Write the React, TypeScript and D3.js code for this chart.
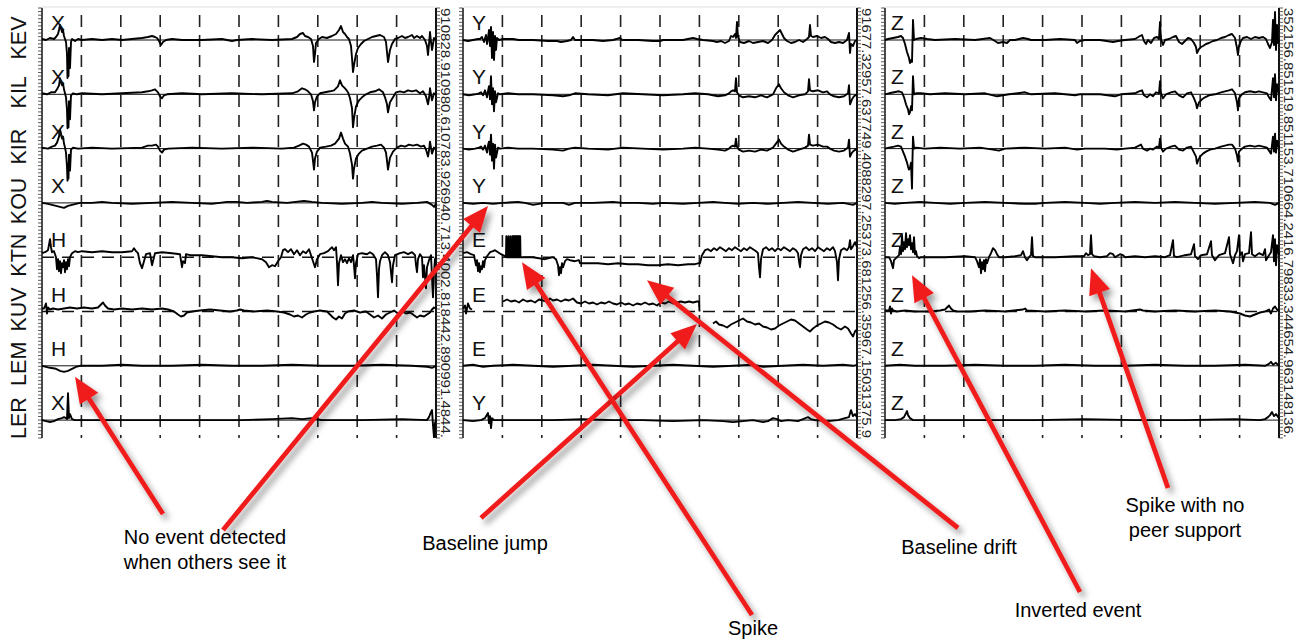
import React from "react";
import * as d3 from "d3";

// ---------------- DATA ----------------
const stations = ["KEV", "KIL", "KIR", "KOU", "KTN", "KUV", "LEM", "LER"];
const components = [
  ["X", "X", "X", "X", "H", "H", "H", "X"],
  ["Y", "Y", "Y", "Y", "E", "E", "E", "Y"],
  ["Z", "Z", "Z", "Z", "Z", "Z", "Z", "Z"],
];
const sideValues = [
  "910828.910980.610783.926940.713.4002.818442.890991.4844.",
  "91677.32957.637749.4088297.25373.681256.35967.15031375.9",
  "352156.851519.851153.710664.2416.79833.344654.963148136.",
];
const dashedBaselines = [[4, 5], [4, 5], [5]];
const SAMPLES = 394;

// traces: flat [sample, amplitude, sample, amplitude, ...]; null = gap
const p1KEV = [0,1,4,0,8,2,12,1,14,3,16,6,17,10,18,15,19,12,20,8,21,10,22,4,23,1,24,-2,25,-14,25.5,-38,26,-20,26.5,-36,27,-8,28,-28,29,-2,30,1,33,-1,36,1,40,0,50,1,60,0,70,1,80,0,90,1,100,2,106,3,110,4,113,3,115,2,117,-1,119,-5,121,-2,124,0,130,1,140,0,160,0,180,1,190,-1,195,0,210,1,230,0,250,1,255,3,258,6,261,7,263,4,266,3,269,1,271,-6,272,-22,273,-14,274,-3,277,1,280,3,285,2,290,4,294,6,297,10,299,14,301,8,303,6,305,3,307,1,309,-6,310,-18,311,-32,312,-25,314,-14,316,-8,319,-4,322,-1,326,1,330,3,334,4,338,5,342,3,344,-2,345,-12,346,-22,348,-10,350,-4,353,1,356,2,360,4,363,2,366,3,370,5,372,2,375,4,378,2,380,4,383,0,385,-6,386,-15,387,-4,388,8,389,-2,390,-10,392,2,394,0];
const p1KIL = [0,1,5,0,9,2,13,2,15,5,17,9,18,16,19,12,20,9,21,11,22,5,23,1,24,-3,25,-15,25.5,-34,26,-18,26.5,-33,27,-7,28,-25,29,-1,31,1,35,0,40,1,60,0,80,1,100,2,106,3,110,4,113,5,116,2,118,-2,120,-4,122,-1,125,0,140,1,160,0,190,1,220,0,250,1,256,3,260,6,263,5,266,3,269,0,271,-7,272,-16,273,-8,275,-2,278,1,283,2,288,3,292,4,296,8,298,14,300,9,303,6,306,2,308,-4,310,-14,311,-33,312,-24,314,-12,317,-6,320,-3,324,0,328,2,333,3,337,5,341,2,343,-3,345,-10,346,-18,348,-8,351,-3,354,2,358,3,362,2,366,4,370,3,374,4,378,1,381,3,384,-2,386,-10,387,-4,388,6,390,-6,392,1,394,0];
const p1KIR = [0,1,6,0,10,2,13,3,15,6,17,12,18,19,19,15,20,10,21,12,22,5,23,1,24,-4,25,-18,25.5,-32,26,-15,26.5,-30,27,-6,28,-22,29,-1,31,1,36,0,50,1,70,0,100,1,106,3,110,3,114,4,116,2,118,-2,120,-4,122,-1,126,0,150,1,180,0,210,1,240,0,252,1,257,3,261,5,264,4,267,2,270,-4,271,-12,272,-21,273,-10,275,-3,278,1,284,2,289,3,293,5,297,10,299,16,301,10,303,5,306,2,308,-5,310,-16,311,-30,312,-20,314,-10,317,-5,320,-2,325,0,330,2,335,3,339,4,342,1,344,-4,345,-12,346,-21,348,-9,351,-3,355,1,359,3,363,2,367,4,371,3,375,4,379,2,382,3,384,-1,386,-8,387,-2,388,7,390,-5,392,1,394,-1];
const p1KOU = [0,0,6,-1,10,-2,14,-3,18,-4,22,-5,26,-3,30,-2,34,-1,38,0,50,0,60,1,70,0,90,-1,110,0,130,1,150,0,170,-1,185,1,195,1,205,0,220,1,225,2,230,1,245,0,262,2,270,1,280,0,300,-1,320,0,330,1,340,0,360,-1,375,0,385,1,390,-2,392,-4,394,-1];
const p1KTN = [0,4,3,5,6,7,8,18,9,10,10,5,12,6,14,0,15,-12,16,-2,17,-14,18,-4,19,-16,20,-6,21,-10,22,-3,23,-15,24,-5,25,-12,26,-2,27,-9,28,0,30,4,33,6,36,5,40,6,50,5,60,6,70,5,80,5,90,6,92,9,94,6,96,4,98,-6,100,-11,102,-4,104,3,108,4,110,-8,111,-4,113,4,120,5,130,4,138,3,140,-10,141,-4,143,-6,144,3,148,2,150,2,160,2,170,1,180,0,190,0,200,-1,210,0,220,-2,224,-5,227,-10,230,-8,233,-9,236,-4,239,0,241,7,243,8,246,5,249,8,252,3,255,7,258,2,261,6,264,4,267,8,269,2,271,-4,273,-10,275,-2,278,3,282,4,286,6,290,10,292,7,294,10,295,-5,296,-28,297,-6,299,2,301,-5,303,-2,305,-6,307,-1,309,-5,311,2,312,-8,313,-21,314,-6,316,3,320,4,325,3,328,5,331,3,334,-2,335,-18,336,-40,337,-12,338,-4,340,2,343,5,346,2,348,-5,349,-15,350,-25,351,-8,353,2,358,4,362,5,366,3,370,5,373,2,374,-8,375,-15,376,-2,378,3,380,0,381,-20,382,-8,384,-31,385,-10,387,-3,389,2,390,-20,391,-40,392,-15,393,-2,394,0];
const p1KUV = [0,3,2,3,4,8,5,-2,6,4,8,2,11,3,16,2,22,3,28,4,35,3,42,4,50,3,56,4,59,7,61,9,63,6,66,3,72,2,80,3,90,2,100,3,110,2,120,3,126,2,132,0,136,-3,139,-5,142,-4,145,-1,150,0,158,1,168,2,178,1,188,0,195,1,198,2,202,1,212,0,225,1,235,0,242,-1,248,-3,252,-5,256,-4,260,-6,264,-3,268,-1,272,0,278,1,285,0,288,-3,291,-6,294,-8,297,-5,300,-7,303,-2,306,0,312,1,318,-1,324,0,328,-3,332,-6,336,-4,340,-7,344,-3,348,-1,352,1,356,-2,360,0,364,-2,368,-1,371,-3,375,-6,378,-4,382,-5,385,-3,388,-1,390,2,392,4,394,3];
const p1LEM = [0,0,4,-1,8,-2,14,-3,18,-5,22,-6,26,-5,30,-3,34,-1,38,0,60,0,80,1,100,0,130,0,160,1,190,0,220,0,250,1,280,0,310,0,340,1,370,0,385,-1,390,-2,394,0];
const p1LER = [0,0,4,-1,8,-2,12,-1,16,1,20,2,22,3,24,2,25,1,26,27,27,2,28,6,30,1,33,0,60,0,100,0,150,0,200,0,230,1,250,2,260,1,270,2,280,0,320,0,360,1,385,0,387,3,389,8,390,10,391,-5,392,-17,393,-3,394,0];

const p2KEV = [0,0,5,-1,10,0,15,1,17,1,19,3,21,-2,23,5,24,-4,25,2,26,10,27,-6,28,13,29,-18,30,8,31,-20,32,4,33,-10,34,2,36,0,40,1,50,1,56,0,70,0,85,-1,94,-1,98,-2,104,-1,108,0,110,3,112,0,130,0,140,-1,150,0,157,2,159,0,175,0,190,-1,197,-1,200,0,220,0,230,2,234,1,240,0,250,-1,254,-2,258,-1,262,-3,266,-1,268,4,270,3,272,6,273,2,274,18,275,3,277,-2,281,-3,286,-1,290,-3,295,-2,300,-1,305,-3,309,0,312,5,315,8,317,10,319,6,321,2,324,-1,328,-3,332,-2,336,0,340,-2,344,1,346,3,347,15,348,4,350,3,354,4,358,2,362,3,365,1,368,-2,372,-3,376,-2,380,-3,384,0,386,7,387,-13,388,-4,390,-6,392,-1,394,0];
const p2KIL = [0,0,6,-1,12,0,16,1,18,2,20,-1,22,4,24,-3,25,3,26,8,27,-5,28,18,29,-10,30,6,31,-17,32,3,33,-8,35,1,37,0,45,1,55,0,70,0,90,-1,100,-2,106,-1,112,1,125,0,145,-1,160,1,180,0,200,-1,220,0,232,1,245,0,255,-2,262,-1,266,1,268,3,270,4,272,3,273,16,274,2,276,-1,280,-3,286,-2,292,-3,298,-1,304,-3,310,0,313,6,316,10,318,6,321,2,325,-1,330,-3,336,-1,342,0,345,3,346,15,347,4,350,3,355,4,360,2,364,3,367,0,371,-2,376,-3,381,-2,385,1,386,9,387,-10,389,-5,391,-2,394,0];
const p2KIR = [0,0,6,-1,12,0,16,1,18,2,20,-1,22,3,24,-4,25,3,26,7,27,-6,28,14,29,-12,30,5,31,-20,32,4,33,-9,35,1,37,0,45,1,55,0,70,0,90,-1,100,-2,106,0,112,1,125,0,145,-1,160,1,180,0,200,-1,220,0,232,1,245,0,255,-1,262,-2,266,0,268,2,270,3,272,2,273,10,274,2,276,-1,280,-3,286,-2,292,-3,298,-1,304,-2,310,1,313,5,316,9,318,5,321,2,325,-1,330,-3,336,-1,342,1,345,3,346,14,347,4,350,3,355,4,360,2,364,2,367,0,371,-2,376,-3,381,-2,385,1,386,9,387,-8,389,-4,391,-2,394,0];
const p2KOU = [0,0,10,-1,20,0,30,-1,40,0,55,1,62,0,70,-2,76,-1,82,0,100,0,106,-2,112,0,130,0,150,1,160,0,175,0,190,-1,200,0,220,-1,235,0,250,1,262,0,275,-1,290,0,305,-1,320,0,335,1,350,0,365,-1,380,0,390,-2,394,0];
const p2KTN = [0,4,4,5,8,3,11,2,13,-8,14,-3,15,-14,16,-6,17,-15,18,-9,19,-12,20,-4,21,-10,22,-3,24,1,27,5,30,6,32,7,35,5,38,3,40,2,42,1,43,1,43.3,21,43.6,0,45,0,45.3,21,45.6,0,47,0,47.3,21,47.6,0,49,0,49.3,21,49.6,0,50,21,50.3,0,50.6,21,50.9,0,51.2,21,51.5,0,51.8,21,52.1,0,52.4,21,52.7,0,53,21,53.3,0,53.6,21,53.9,0,54.2,21,54.5,0,54.8,21,55.1,0,55.4,21,55.7,0,56,21,56.3,0,56.6,21,56.9,0,57.2,21,57.5,0,58,0,62,0,70,0,76,-1,82,-2,86,-1,90,0,93,-2,95,-8,96,-18,97,-10,98,-16,99,-6,100,-10,102,-4,104,-2,107,-3,112,-4,116,-3,117,-6,125,-6,135,-6,145,-7,155,-6,165,-7,175,-7,185,-8,195,-8,205,-7,215,-8,225,-7,232,-7,236,-6,237,-6,239,2,242,7,245,8,248,6,251,9,254,7,257,10,260,8,263,6,266,9,269,7,272,10,275,8,278,6,281,9,284,7,287,10,290,8,293,6,295,4,296,-10,297,-20,298,-2,300,8,303,10,306,7,309,9,312,6,315,9,318,7,321,10,324,8,327,6,330,9,333,7,335,4,336,-4,337,-10,338,2,340,8,343,10,346,7,349,9,352,6,355,10,358,8,361,6,364,9,367,7,370,10,372,6,374,-5,375,-23,376,-2,378,7,381,9,384,7,386,10,387,17,388,8,390,11,392,15,394,10];
const p2KUV = [0,3,2,6,3,-2,5,8,7,3,9,2,9.5,null,40,10,44,12,48,10,52,11,56,9,60,12,64,10,68,11,72,9,76,12,80,11,84,10,87,13,90,11,94,12,98,10,102,12,106,11,110,13,114,9,118,8,122,10,126,8,130,9,134,7,138,9,142,8,146,10,150,8,154,7,158,9,162,7,166,8,170,6,174,8,178,7,182,9,186,7,190,8,194,6,198,9,202,8,206,10,210,8,214,9,218,10,222,9,226,10,230,9,234,10,236,10,236.5,0,240,null,250,-12,253,-10,256,-13,260,-14,264,-16,268,-13,272,-11,276,-9,280,-7,284,-10,288,-11,292,-13,296,-12,300,-15,304,-16,308,-18,312,-17,316,-14,320,-12,324,-10,328,-8,332,-9,336,-12,340,-15,344,-18,347,-20,350,-17,354,-14,358,-12,362,-10,366,-11,370,-13,374,-16,378,-18,382,-15,385,-17,388,-22,390,-25,392,-20,394,-18];
const p2LEM = [0,0,10,1,20,-1,30,0,50,1,70,0,90,-1,110,0,130,1,150,0,170,-1,190,0,210,1,230,0,250,-1,270,0,290,1,300,-1,320,0,340,1,360,0,380,1,390,0,394,1];
const p2LER = [0,0,10,-1,18,0,22,2,25,7,26,-3,27,4,28,-8,29,2,31,0,40,0,60,0,90,0,120,1,150,0,180,0,210,-1,240,0,260,-1,270,-2,280,-1,290,0,300,-2,305,-1,310,2,314,1,318,-1,325,0,335,-1,345,3,348,1,352,0,365,-1,375,0,382,2,386,3,388,10,390,4,392,6,394,3];

const p3KEV = [0,0,3,1,8,2,13,3,16,4,18,2,20,-4,22,-12,24,-18,25,-23,26,-20,27,-22,28,20,29,0,31,1,36,2,42,1,50,0,70,1,90,0,105,2,110,-1,113,-3,118,-2,122,-3,125,0,130,0,138,2,143,1,146,0,160,0,175,1,190,0,192,-3,195,-1,200,0,215,0,228,-2,233,-1,240,0,250,1,255,4,257,5,259,-1,261,-4,263,0,266,-3,269,2,272,3,274,1,275,18,276,1,278,-5,280,0,284,1,288,3,291,4,294,-2,297,-4,300,-1,303,2,306,1,309,-3,311,-7,312,-13,314,-9,316,-7,318,-6,321,-4,324,-3,328,-1,332,0,336,2,340,3,344,5,347,6,350,2,352,-8,353,-15,354,-6,356,-1,358,2,362,3,366,1,370,3,374,2,378,3,381,1,383,-4,385,-8,387,-2,388,20,389,-5,390,28,391,-10,392,15,393,-3,394,0];
const p3KIL = [0,0,4,1,9,2,14,3,17,2,19,-3,21,-10,23,-15,24,-20,25,-18,26,-12,27,-16,28,18,29,0,31,1,36,1,45,0,60,1,80,0,100,1,108,-1,112,-2,118,-1,124,0,140,2,146,0,170,1,190,-1,195,0,215,0,230,-2,236,0,250,1,254,3,257,4,259,-1,262,-3,265,0,268,-2,271,2,274,1,275,13,276,1,278,-4,281,0,286,2,290,3,294,-1,298,-3,302,1,306,2,309,-4,311,-9,312,-14,314,-8,317,-5,320,-3,324,-1,330,0,336,2,340,3,344,4,347,5,350,1,352,-8,353,-16,354,-4,357,0,360,2,365,3,370,2,374,3,378,2,382,1,384,-3,386,-6,388,16,389,-3,390,20,391,-6,392,10,394,0];
const p3KIR = [0,0,4,1,9,2,13,3,16,2,18,-3,20,-8,22,-14,23,-18,24,-21,25,-19,26,-14,27,-40,27.5,-10,28,12,29,0,31,1,40,0,55,1,75,0,95,1,108,-1,114,-2,120,0,140,1,160,0,180,1,192,-1,200,0,220,0,232,-1,240,0,250,1,254,3,256,4,258,0,262,-2,265,0,268,-1,272,2,274,1,275,10,276,1,278,-3,281,0,286,2,290,3,294,-1,298,-2,302,1,306,2,309,-4,311,-8,312,-15,313,-12,315,-8,318,-5,321,-3,325,-1,330,0,336,2,340,3,344,4,347,4,350,0,352,-7,353,-13,354,-3,357,0,360,2,365,3,370,2,374,3,378,2,382,1,384,-2,386,-5,388,12,389,-3,390,15,391,-4,392,8,394,0];
const p3KOU = [0,0,10,-1,20,0,35,1,50,0,65,-1,80,0,100,1,120,0,140,-1,150,-1,160,0,180,1,200,0,215,-1,230,0,250,1,270,0,290,1,310,0,330,-1,350,0,370,1,385,0,390,-2,394,0];
const p3KTN = [0,0,4,0,6,-4,8,-11,9,-3,12,0,14,2,15,10,16,3,17,22,18,6,19,15,20,8,21,24,22,10,23,18,24,12,25,22,26,8,27,14,28,5,29,20,30,3,31,6,32,1,34,-1,36,0,40,0,60,0,80,1,90,0,92,-4,94,-10,95,-2,96,-16,97,-5,98,-12,99,-3,100,-14,101,-2,102,-6,104,0,106,4,108,9,110,7,112,3,114,0,120,0,130,1,136,2,138,6,140,0,142,-3,144,0,146,2,147,20,148,1,150,0,170,0,190,1,199,1,201,4,203,2,205,3,206,22,207,3,209,1,215,0,222,1,225,4,228,3,230,0,235,3,238,2,240,0,250,1,260,0,270,1,280,0,285,2,288,17,289,1,292,0,300,2,306,3,309,13,310,1,313,-2,316,2,322,3,326,16,327,2,330,-3,334,2,340,4,344,20,345,3,348,-6,350,2,352,6,354,22,355,2,357,5,358,-4,360,3,364,4,366,25,367,3,370,1,374,4,378,2,380,8,381,-3,384,2,386,5,388,22,389,-4,390,18,391,-8,392,12,394,2];
const p3KUV = [0,1,4,1,5,5,6,-2,7,3,8,1,12,0,20,1,30,0,45,0,55,1,60,2,62,4,64,6,66,3,68,1,72,0,85,0,100,1,120,0,138,2,140,3,142,1,160,0,180,1,200,0,220,1,240,0,255,2,258,1,270,0,290,1,310,0,330,1,345,0,355,-2,360,-4,365,-5,370,-3,375,-1,380,0,384,2,386,-2,388,3,390,5,392,2,394,0];
const p3LEM = [0,0,15,1,30,0,60,0,90,1,120,0,150,0,180,1,210,0,240,0,270,1,300,0,330,0,360,1,380,0,384,2,386,4,388,1,391,3,394,0];
const p3LER = [0,0,10,0,16,1,19,3,21,7,22,9,23,5,25,2,28,0,60,0,100,0,150,0,200,1,250,0,300,0,350,1,375,0,380,1,383,3,385,5,387,8,389,4,391,6,394,2];

const traces = [
  [p1KEV, p1KIL, p1KIR, p1KOU, p1KTN, p1KUV, p1LEM, p1LER],
  [p2KEV, p2KIL, p2KIR, p2KOU, p2KTN, p2KUV, p2LEM, p2LER],
  [p3KEV, p3KIL, p3KIR, p3KOU, p3KTN, p3KUV, p3LEM, p3LER],
];

// annotation targets in data coordinates (panel, row, sample, amplitude)
const annotations = [
  { panel: 1, row: 3, t: 25, v: -3, tail: [223, 530] },
  { panel: 0, row: 6, t: 33, v: -11, tail: [163, 514] },
  { panel: 1, row: 5, t: 234, v: -12.5, tail: [481, 518] },
  { panel: 1, row: 4, t: 59, v: -5, tail: [752, 615] },
  { panel: 1, row: 4, t: 184, v: -23, tail: [958, 528] },
  { panel: 2, row: 4, t: 27, v: -18, tail: [1080, 592] },
  { panel: 2, row: 4, t: 206, v: -11, tail: [1168, 488] },
];
const driftMark = { panel: 1, row: 4, t0: 117, t1: 236, v: -14 };
const labels = [
  { lines: ["No event detected", "when others see it"], x: 205, y: 544 },
  { lines: ["Baseline jump"], x: 485, y: 550 },
  { lines: ["Spike"], x: 753, y: 635 },
  { lines: ["Baseline drift"], x: 959, y: 554 },
  { lines: ["Inverted event"], x: 1078, y: 617 },
  { lines: ["Spike with no", "peer support"], x: 1185, y: 512 },
];

// ---------------- LAYOUT ----------------
const W = 1304;
const H = 644;
const panelLefts = [42, 463, 885];
const PW = 394;
const TOP = 8;
const BOTTOM = 438;
const RED = "#f01e1e";
const FONT = "'Liberation Sans', Arial, Helvetica, sans-serif";

function toPairs(a: (number | null)[]): [number, number | null][] {
  const out: [number, number | null][] = [];
  for (let i = 0; i < a.length; i += 2) out.push([a[i] as number, a[i + 1]]);
  return out;
}

export default function App() {
  React.useEffect(() => {
    document.body.style.margin = "0";
  }, []);

  const rowY = d3.scaleLinear().domain([0, 7]).range([40, 420.1]);
  const amp = d3.scaleLinear().domain([-40, 40]).range([40, -40]);
  const ruler = d3.scaleLinear().domain([0, 120]).range([TOP, BOTTOM]);
  const xs = panelLefts.map((L) => d3.scaleLinear().domain([0, SAMPLES]).range([L, L + PW]));
  const gridT = d3.range(1, 10).map((i) => (i * SAMPLES) / 10);
  const rulerTicks = d3.range(0, 121);

  const lineFor = (p: number, r: number) =>
    d3
      .line<[number, number | null]>()
      .defined((d) => d[1] !== null)
      .x((d) => xs[p](d[0]))
      .y((d) => rowY(r) + amp(d[1] as number));

  const arrows = annotations.map((a) => {
    const hx = xs[a.panel](a.t);
    const hy = rowY(a.row) + amp(a.v);
    const [tx, ty] = a.tail;
    const dx = hx - tx;
    const dy = hy - ty;
    const len = Math.hypot(dx, dy);
    const ux = dx / len;
    const uy = dy / len;
    const hl = 26;
    const hw = 11;
    const bx = hx - ux * hl;
    const by = hy - uy * hl;
    const px = -uy;
    const py = ux;
    return {
      line: [tx, ty, bx + ux * 2, by + uy * 2],
      head: `${hx},${hy} ${bx + px * hw},${by + py * hw} ${bx - px * hw},${by - py * hw}`,
    };
  });

  return (
    <svg
      width={W}
      height={H}
      viewBox={`0 0 ${W} ${H}`}
      style={{ position: "absolute", left: 0, top: 0, display: "block", background: "#fff" }}
    >
      <defs>
        <filter id="shadow" x="-20%" y="-20%" width="140%" height="140%">
          <feDropShadow dx="4" dy="5" stdDeviation="3" floodColor="#000" floodOpacity="0.4" />
        </filter>
      </defs>
      <rect x={0} y={0} width={W} height={H} fill="#fff" />

      {/* station labels */}
      {stations.map((s, i) => (
        <text
          key={s}
          transform={`translate(26,${rowY(i) - 2}) rotate(-90)`}
          textAnchor="middle"
          fontFamily={FONT}
          fontSize={21.5}
          fill="#111"
        >
          {s}
        </text>
      ))}

      {panelLefts.map((L, p) => (
        <g key={p}>
          <line x1={L} x2={L + PW} y1={TOP - 1} y2={TOP - 1} stroke="#ddd" strokeWidth={1} />
          {gridT.map((t) => (
            <line
              key={t}
              x1={xs[p](t)}
              x2={xs[p](t)}
              y1={TOP + 7}
              y2={BOTTOM}
              stroke="#222"
              strokeWidth={1.6}
              strokeDasharray="12 8"
            />
          ))}
          <line x1={L} x2={L} y1={TOP} y2={BOTTOM} stroke="#111" strokeWidth={1.5} />
          {rulerTicks.map((k) => (
            <line key={k} x1={L - 4} x2={L} y1={ruler(k)} y2={ruler(k)} stroke="#333" strokeWidth={0.8} />
          ))}
          <line x1={L + PW} x2={L + PW} y1={TOP} y2={BOTTOM} stroke="#111" strokeWidth={2} />
          {rulerTicks.map((k) => (
            <line key={k} x1={L + PW} x2={L + PW + 4} y1={ruler(k)} y2={ruler(k)} stroke="#333" strokeWidth={0.8} />
          ))}
          <text
            transform={`translate(${L + PW + 5},${TOP}) rotate(90)`}
            fontFamily={FONT}
            fontSize={13.5}
            fill="#222"
            textLength={BOTTOM - TOP}
            lengthAdjust="spacingAndGlyphs"
          >
            {sideValues[p]}
          </text>
          {stations.map((s, r) => {
            const dashed = dashedBaselines[p].includes(r);
            return (
              <line
                key={s}
                x1={L}
                x2={L + PW}
                y1={rowY(r)}
                y2={rowY(r)}
                stroke="#111"
                strokeWidth={dashed ? 1.4 : 1}
                strokeDasharray={dashed ? "12 8" : undefined}
              />
            );
          })}
          {traces[p].map((tr, r) => (
            <path
              key={r}
              d={lineFor(p, r)(toPairs(tr as (number | null)[])) || ""}
              fill="none"
              stroke="#000"
              strokeWidth={1.9}
              strokeLinejoin="round"
            />
          ))}
          {components[p].map((c, r) => (
            <text
              key={r}
              x={L + (p === 2 ? 6 : 9)}
              y={rowY(r) - 10}
              fontFamily={FONT}
              fontSize={21}
              fill="#111"
            >
              {c}
            </text>
          ))}
        </g>
      ))}

      <line
        x1={xs[driftMark.panel](driftMark.t0)}
        x2={xs[driftMark.panel](driftMark.t1)}
        y1={rowY(driftMark.row) + amp(driftMark.v)}
        y2={rowY(driftMark.row) + amp(driftMark.v)}
        stroke={RED}
        strokeWidth={4.5}
        filter="url(#shadow)"
      />

      {arrows.map((a, i) => (
        <g key={i} filter="url(#shadow)">
          <line x1={a.line[0]} y1={a.line[1]} x2={a.line[2]} y2={a.line[3]} stroke={RED} strokeWidth={4.8} />
          <polygon points={a.head} fill={RED} />
        </g>
      ))}

      {labels.map((l, i) => (
        <text key={i} x={l.x} y={l.y} textAnchor="middle" fontFamily={FONT} fontSize={20} fill="#000">
          {l.lines.map((ln, j) => (
            <tspan key={j} x={l.x} dy={j === 0 ? 0 : 24.5}>
              {ln}
            </tspan>
          ))}
        </text>
      ))}
    </svg>
  );
}
